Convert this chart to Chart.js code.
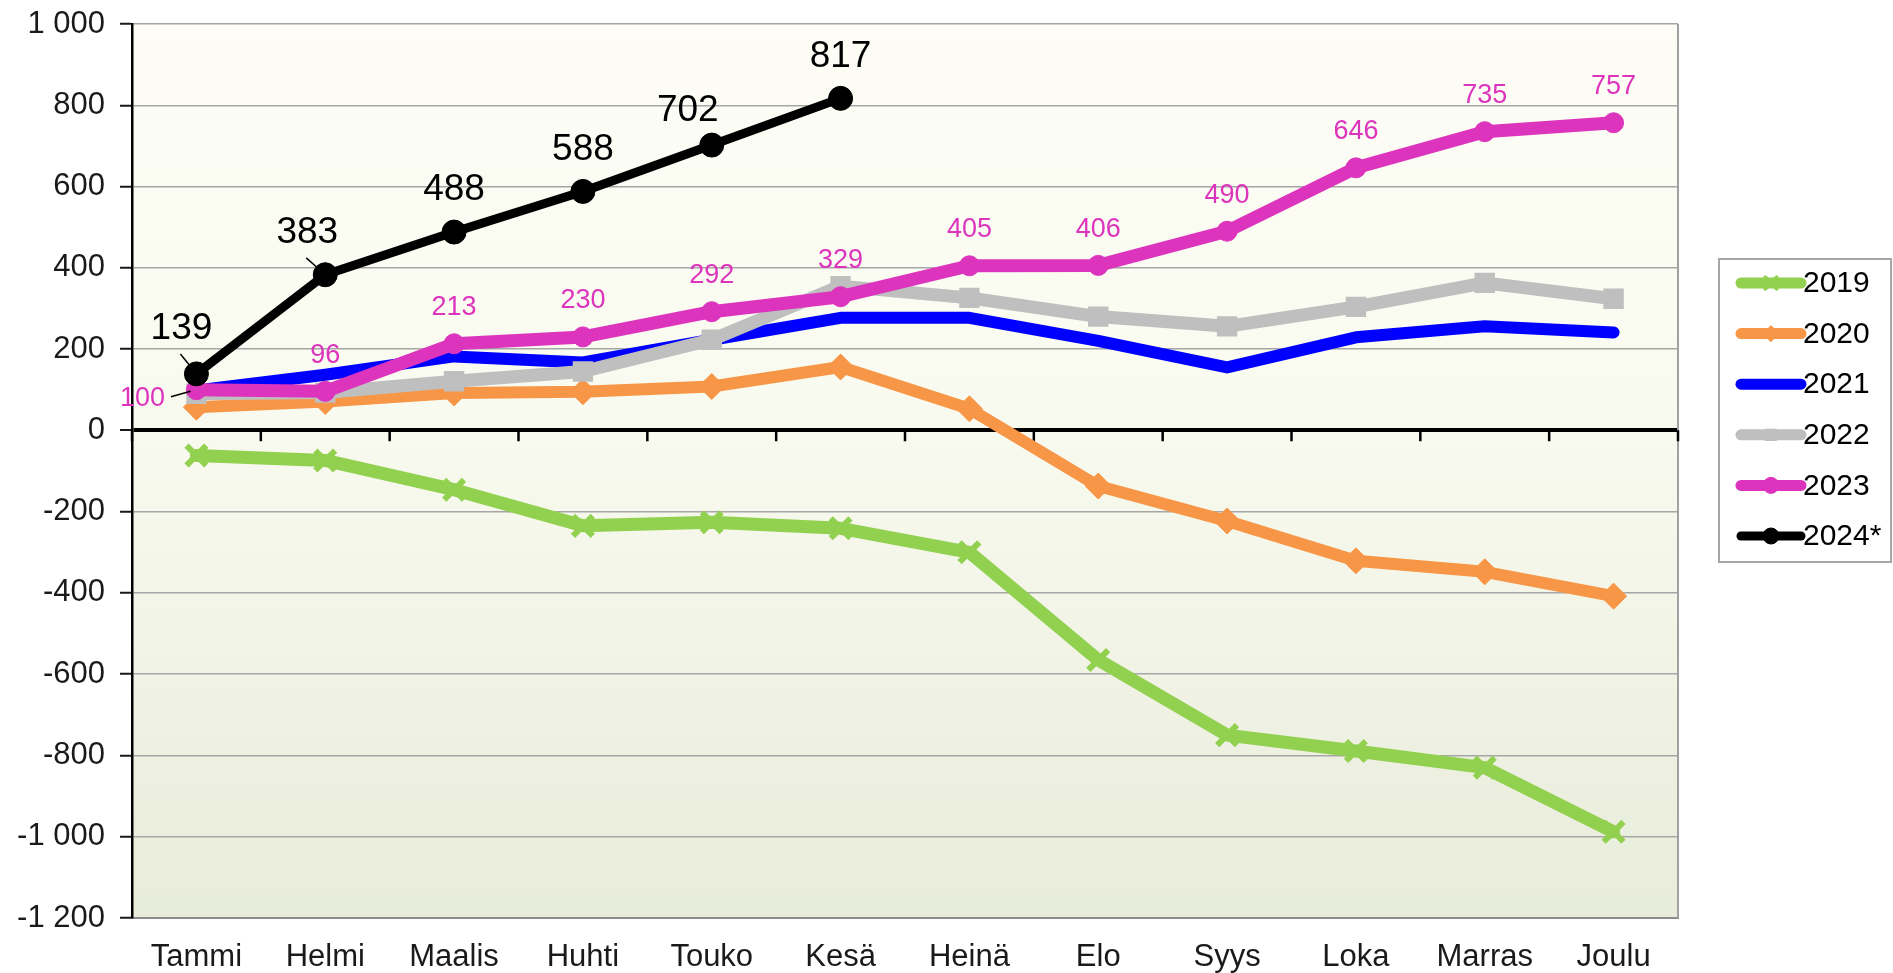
<!DOCTYPE html>
<html>
<head>
<meta charset="utf-8">
<script src="https://cdn.jsdelivr.net/npm/chart.js@4.4.1/dist/chart.umd.min.js"></script>
<style>
  html, body { margin: 0; padding: 0; background: #fff; }
  #wrap { width: 1893px; height: 973px; }
</style>
</head>
<body>
<div id="wrap"><canvas id="chart" width="1893" height="973"></canvas></div>
<script>
// ── Data ─────────────────────────────────────────────────────────────────
const months = ['Tammi', 'Helmi', 'Maalis', 'Huhti', 'Touko', 'Kesä',
                'Heinä', 'Elo', 'Syys', 'Loka', 'Marras', 'Joulu'];

const y2019 = [-62, -74, -146, -235, -226, -241, -300, -565, -750, -789, -830, -988];
const y2020 = [57, 71, 92, 95, 108, 156, 53, -137, -223, -321, -348, -408];
const y2021 = [98, 137, 182, 167, 223, 277, 277, 220, 155, 229, 256, 241];
const y2022 = [90, 93, 121, 145, 223, 355, 326, 280, 256, 304, 363, 324];
const y2023 = [100, 96, 213, 230, 292, 329, 405, 406, 490, 646, 735, 757];
const y2024 = [139, 383, 488, 588, 702, 817];

const yMin = -1200;
const yMax = 1000;
const yStep = 200;

const FONT = "'Liberation Sans', Arial, sans-serif";

// ── Series styling ───────────────────────────────────────────────────────
const series = [
    { label: '2019', data: y2019, color: '#92d050', width: 13, point: 'crossRot', radius: 14, pbw: 6 },
    { label: '2020', data: y2020, color: '#f79646', width: 12, point: 'rectRot', radius: 13, pbw: 1 },
    { label: '2021', data: y2021, color: '#0000ff', width: 12, point: false, radius: 0, pbw: 0 },
    { label: '2022', data: y2022, color: '#bfbfbf', width: 13, point: 'rect', radius: 13, pbw: 2 },
    { label: '2023', data: y2023, color: '#dc34bd', width: 13, point: 'circle', radius: 10, pbw: 1 },
    { label: '2024*', data: y2024, color: '#000000', width: 9, point: 'circle', radius: 12, pbw: 1 },
];

// Value labels (Excel style), some moved by hand with a leader line.
const valueLabels = {
    '2023': { color: '#dc34bd', size: 27, lift: 36, moved: { 0: [-54, 9, 'left'] } },
    '2024*': { color: '#000000', size: 37, lift: 42, moved: { 0: [-15, -45, 'up'], 1: [-18, -42, 'up'], 4: [-24, -34] } },
};

const fmt = v => String(v).replace(/\B(?=(\d{3})+(?!\d))/g, ' ');

// ── Plugins ──────────────────────────────────────────────────────────────
const plotDecor = {
    id: 'plotDecor',
    beforeDraw(chart) {
        const { ctx, chartArea: a } = chart;
        const g = ctx.createLinearGradient(0, a.top, 0, a.bottom);
        g.addColorStop(0, '#fdfdf6');
        g.addColorStop(0.45, '#f9faef');
        g.addColorStop(1, '#e8ecda');
        ctx.save();
        ctx.fillStyle = g;
        ctx.fillRect(a.left, a.top, a.right - a.left, a.bottom - a.top);
        ctx.restore();
    },
    beforeDatasetsDraw(chart) {
        const { ctx, chartArea: a, scales: { x, y } } = chart;
        ctx.save();
        // right frame
        ctx.strokeStyle = '#a0a0a0';
        ctx.lineWidth = 2;
        ctx.beginPath();
        ctx.moveTo(a.right, a.top);
        ctx.lineTo(a.right, a.bottom);
        ctx.stroke();
        // category tick marks hanging off the zero line
        const y0 = y.getPixelForValue(0);
        const half = (x.getPixelForValue(1) - x.getPixelForValue(0)) / 2;
        ctx.strokeStyle = '#000';
        ctx.lineWidth = 2.5;
        ctx.beginPath();
        for (let i = 0; i <= months.length; i++) {
            const px = x.getPixelForValue(i) - half;
            ctx.moveTo(px, y0);
            ctx.lineTo(px, y0 + 11);
        }
        ctx.stroke();
        ctx.restore();
    },
    afterDatasetsDraw(chart) {
        const { ctx } = chart;
        ctx.save();
        chart.data.datasets.forEach((ds, di) => {
            const cfg = valueLabels[ds.label];
            if (!cfg) return;
            const meta = chart.getDatasetMeta(di);
            ctx.font = `${cfg.size}px ${FONT}`;
            ctx.textAlign = 'center';
            ctx.textBaseline = 'middle';
            meta.data.forEach((pt, i) => {
                const mv = cfg.moved[i];
                const dx = mv ? mv[0] : 0;
                const dy = mv ? mv[1] : -cfg.lift;
                const lx = pt.x + dx, ly = pt.y + dy;
                ctx.fillStyle = cfg.color;
                ctx.fillText(fmt(ds.data[i]), lx, ly);
                if (mv && mv[2]) {
                    // leader line from label to marker
                    let sx, sy;
                    if (mv[2] === 'left') {
                        sx = lx + ctx.measureText(fmt(ds.data[i])).width / 2 + 6;
                        sy = ly - 2;
                    } else {
                        sx = lx - 1;
                        sy = ly + cfg.size * 0.68;
                    }
                    const vx = pt.x - sx, vy = pt.y - sy;
                    const d = Math.hypot(vx, vy);
                    const stop = mv[2] === 'left' ? 6 : 12;
                    ctx.strokeStyle = '#000';
                    ctx.lineWidth = 1.5;
                    ctx.beginPath();
                    ctx.moveTo(sx, sy);
                    ctx.lineTo(pt.x - vx / d * stop, pt.y - vy / d * stop);
                    ctx.stroke();
                }
            });
        });
        ctx.restore();
    },
    afterDraw(chart) {
        const { ctx, chartArea: a } = chart;
        const left = a.right + 41, top = a.top + 235, w = 172, h = 303;
        ctx.save();
        ctx.fillStyle = '#ffffff';
        ctx.fillRect(left, top, w, h);
        ctx.strokeStyle = '#a6a6a6';
        ctx.lineWidth = 2;
        ctx.strokeRect(left, top, w, h);
        ctx.font = `30px ${FONT}`;
        ctx.textAlign = 'left';
        ctx.textBaseline = 'middle';
        chart.data.datasets.forEach((ds, i) => {
            const ry = top + 24 + i * 50.6;
            const x1 = left + 22, x2 = left + 82;
            ctx.strokeStyle = ds.borderColor;
            ctx.lineWidth = Math.min(ds.borderWidth, 11);
            ctx.lineCap = 'round';
            ctx.beginPath();
            ctx.moveTo(x1, ry);
            ctx.lineTo(x2, ry);
            ctx.stroke();
            if (ds.pointStyle && Chart.helpers && Chart.helpers.drawPoint) {
                ctx.fillStyle = ds.borderColor;
                ctx.lineWidth = ds.pointStyle === 'crossRot' ? 4 : 1;
                Chart.helpers.drawPoint(ctx, {
                    pointStyle: ds.pointStyle, rotation: 0,
                    radius: 8, borderWidth: ctx.lineWidth,
                }, (x1 + x2) / 2, ry);
            }
            ctx.fillStyle = '#000';
            ctx.fillText(ds.label, x2 + 2, ry + 1);
        });
        ctx.restore();
    },
};

// ── Chart ────────────────────────────────────────────────────────────────
new Chart(document.getElementById('chart').getContext('2d'), {
    type: 'line',
    data: {
        labels: months,
        datasets: series.map((s, i) => ({
            label: s.label,
            data: s.data,
            borderColor: s.color,
            backgroundColor: s.color,
            borderWidth: s.width,
            borderCapStyle: 'round',
            borderJoinStyle: 'round',
            pointStyle: s.point,
            pointRadius: s.radius,
            pointBorderWidth: s.pbw,
            pointBackgroundColor: s.color,
            pointBorderColor: s.color,
            tension: 0,
            fill: false,
            order: series.length - i,
        })),
    },
    options: {
        responsive: false,
        animation: false,
        devicePixelRatio: 1,
        layout: { padding: { left: 0, right: 215, top: 24, bottom: 0 } },
        plugins: {
            legend: { display: false },
            tooltip: { enabled: false },
        },
        scales: {
            x: {
                offset: true,
                grid: { display: false },
                border: { display: true, color: '#8c8c8c', width: 2 },
                ticks: {
                    color: '#1a1a1a',
                    font: { family: FONT, size: 31 },
                    padding: 13,
                    maxRotation: 0,
                    autoSkip: false,
                },
                afterFit: s => { s.height = 55; },
            },
            y: {
                min: yMin,
                max: yMax,
                ticks: {
                    stepSize: yStep,
                    color: '#1a1a1a',
                    font: { family: FONT, size: 31 },
                    padding: 15,
                    callback: v => fmt(v),
                },
                grid: {
                    color: c => (c.tick && c.tick.value === 0 ? '#000000' : '#a6a6a6'),
                    lineWidth: c => (c.tick && c.tick.value === 0 ? 4 : 1.5),
                    tickLength: 12,
                    tickColor: '#1a1a1a',
                    tickWidth: 2,
                },
                border: { color: '#000000', width: 2.5 },
                afterFit: s => { s.width = 132; s.paddingTop = 0; s.paddingBottom = 0; },
            },
        },
    },
    plugins: [plotDecor],
});
</script>
</body>
</html>
